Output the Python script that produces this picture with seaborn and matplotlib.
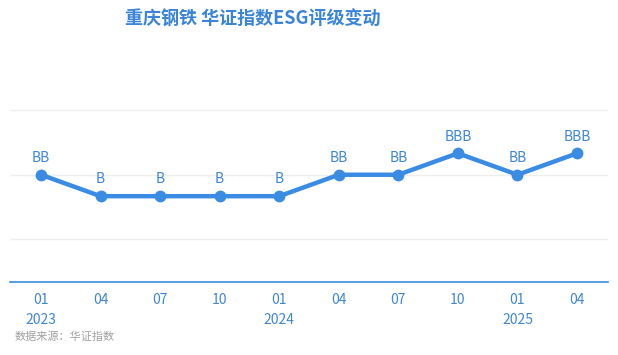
import matplotlib
matplotlib.use("Agg")
import matplotlib.pyplot as plt
import seaborn as sns
import pandas as pd

quarters = ["01\n2023", "04", "07", "10", "01\n2024", "04", "07", "10", "01\n2025", "04"]
ratings = ["BB", "B", "B", "B", "B", "BB", "BB", "BBB", "BB", "BBB"]
rating_scale = {"B": 2, "BB": 3, "BBB": 4}

sns.set_theme(style="white")
plt.rcParams['font.family'] = ['Noto Sans CJK SC', 'DejaVu Sans']

df = pd.DataFrame({"idx": range(len(quarters)), "score": [rating_scale[r] for r in ratings], "rating": ratings})

blue = "#3a8be3"
tick_blue = "#3f86d6"

fig = plt.figure(figsize=(6.18, 3.55), dpi=100)
ax = fig.add_axes([10/618, 1 - 282/355, 598/618, (282 - 60)/355])

sns.lineplot(data=df, x="idx", y="score", ax=ax, color=blue, linewidth=3.2,
             marker="o", markersize=8.5, markeredgewidth=0, markeredgecolor=blue)

for i, r in enumerate(ratings):
    ax.annotate(r, (i, rating_scale[r]), xytext=(0, 7), textcoords="offset points",
                ha="center", va="bottom", fontsize=10, color=tick_blue)

ax.set_xlim(-0.52, 9.52)
ax.set_ylim(-2, 3 + (175 - 60) / 21.5)
ax.set_yticks([0, 3, 6])
ax.set_yticklabels([])
ax.tick_params(axis="y", length=0)
ax.grid(axis="y", color="#eeeeee", linewidth=1)
ax.set_xticks(range(len(quarters)))
ax.set_xticklabels(quarters, fontsize=10, color=tick_blue, linespacing=1.5)
ax.tick_params(axis="x", length=5, width=1, color=blue, pad=3)
ax.set_xlabel("")
ax.set_ylabel("")
for s in ["top", "right", "left"]:
    ax.spines[s].set_visible(False)
ax.spines["bottom"].set_color(blue)
ax.spines["bottom"].set_linewidth(1.2)

fig.text(253/618, 1 - 19/355, "重庆钢铁 华证指数ESG评级变动", ha="center", va="center",
         fontsize=13, fontweight="bold", color="#3a84d9")
fig.text(15/618, 1 - 337/355, "数据来源：华证指数", ha="left", va="center",
         fontsize=8, color="#a0a0a0")

fig.savefig("out.png", dpi=100)
